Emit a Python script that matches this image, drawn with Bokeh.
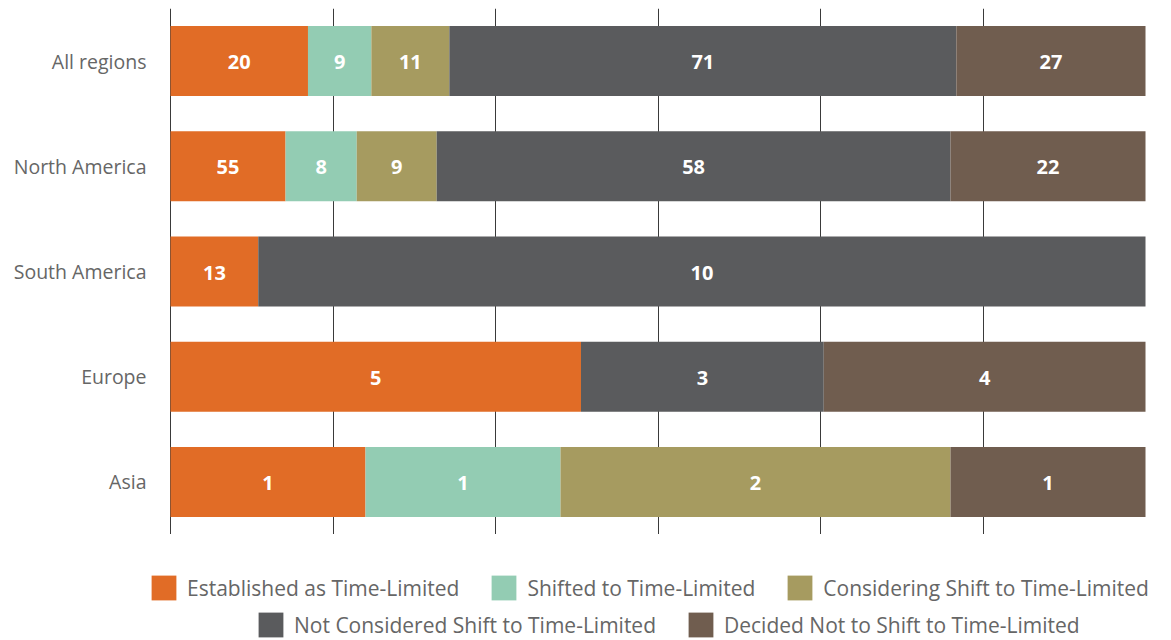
from bokeh.plotting import figure
from bokeh.layouts import column
from bokeh.models import (FactorRange, Range1d, FixedTicker, Legend, LegendItem,
                          ColumnDataSource, Grid)
from bokeh.core.properties import value
from bokeh.embed import file_html
from bokeh.resources import INLINE

regions = ["All regions", "North America", "South America", "Europe", "Asia"]
series = ["Established as Time-Limited", "Shifted to Time-Limited",
          "Considering Shift to Time-Limited", "Not Considered Shift to Time-Limited",
          "Decided Not to Shift to Time-Limited"]

# share of each bar (percent)
established_pct = [14.1, 11.8, 9.0, 42.1, 20.0]
shifted_pct = [6.5, 7.3, 0.0, 0.0, 20.0]
considering_pct = [8.0, 8.2, 0.0, 0.0, 40.0]
not_considered_pct = [52.0, 52.7, 91.0, 24.9, 0.0]
decided_not_pct = [19.4, 20.0, 0.0, 33.0, 20.0]

# counts printed on the segments
established_n = [20, 55, 13, 5, 1]
shifted_n = [9, 8, None, None, 1]
considering_n = [11, 9, None, None, 2]
not_considered_n = [71, 58, 10, 3, None]
decided_not_n = [27, 22, None, 4, 1]

colors = ["#E16C26", "#93CCB3", "#A69B60", "#5A5B5D", "#705D4F"]
TEXT = "#666666"
FONT = "Open Sans"

keys = ["established", "shifted", "considering", "not_considered", "decided_not"]
pcts = [established_pct, shifted_pct, considering_pct, not_considered_pct, decided_not_pct]
counts = [established_n, shifted_n, considering_n, not_considered_n, decided_not_n]

data = {"region": regions}
for k, v in zip(keys, pcts):
    data[k] = v
src = ColumnDataSource(data)

# frame spans x = 146..1171 px; the 0..100 scale maps onto 170..1145 px
PX = 975 / 100.0
X0 = -24 / PX
X1 = 100 + 26 / PX

# ---------------- main chart ----------------
p = figure(width=1171, height=534,
           y_range=FactorRange(factors=list(reversed(regions))),
           x_range=Range1d(X0, X1),
           x_axis_location=None, toolbar_location=None, output_backend="svg",
           min_border_left=146, min_border_right=0, min_border_top=8,
           min_border_bottom=0)
p.outline_line_color = None
p.xgrid.visible = False
p.ygrid.visible = False
grid = Grid(dimension=0, ticker=FixedTicker(ticks=[100 * i / 6 for i in range(6)]),
            grid_line_color="#3a3a3a", grid_line_width=1)
p.add_layout(grid, "center")

rs = p.hbar_stack(keys, y="region", height=0.665, source=src,
                  fill_color=colors, line_color=None)

lx, ly, lt = [], [], []
for i, reg in enumerate(regions):
    start = 0.0
    for j in range(len(keys)):
        w = pcts[j][i]
        n = counts[j][i]
        if n is not None and w > 0:
            lx.append(start + w / 2)
            ly.append(reg)
            lt.append(str(n))
        start += w
lsrc = ColumnDataSource(dict(x=lx, y=ly, text=lt))
p.text(x="x", y="y", text="text", source=lsrc, text_align="center",
       text_baseline="middle", text_color="white", text_font=value(FONT),
       text_font_style="bold", text_font_size="20px", y_offset=1)

ax = p.yaxis[0]
ax.axis_line_color = None
ax.major_tick_line_color = None
ax.minor_tick_line_color = None
ax.major_tick_out = 0
ax.major_tick_in = 0
ax.major_label_standoff = 0
ax.major_label_text_font = FONT
ax.major_label_text_font_size = "19.5px"
ax.major_label_text_color = TEXT
ax.major_label_text_baseline = "alphabetic"

# ---------------- legend strip ----------------
q = figure(width=1171, height=106, x_range=Range1d(0, 1), y_range=Range1d(0, 1),
           x_axis_location=None, y_axis_location=None, toolbar_location=None,
           output_backend="svg", min_border_left=146, min_border_right=0,
           min_border_top=0, min_border_bottom=0)
q.outline_line_color = None
q.xgrid.visible = False
q.ygrid.visible = False
# swatch-only renderers with zero-size geometry
dummies = [q.hbar(y=[0.5], left=[0], right=[0], height=0, fill_color=c,
                  line_color=None) for c in colors]
items = [LegendItem(label=series[i], renderers=[dummies[i]]) for i in range(5)]


def make_legend(its, loc):
    return Legend(items=its, orientation="horizontal", location=loc,
                  border_line_color=None, background_fill_alpha=0,
                  margin=0, padding=0, glyph_width=31, glyph_height=31,
                  label_standoff=8, spacing=29, label_text_font=FONT,
                  label_text_font_size="21px", label_text_color=TEXT)


q.add_layout(make_legend(items[:3], (2, 37)))
q.add_layout(make_legend(items[3:], (109, 0)))

open("out.html", "w").write(file_html(column(p, q), INLINE))
